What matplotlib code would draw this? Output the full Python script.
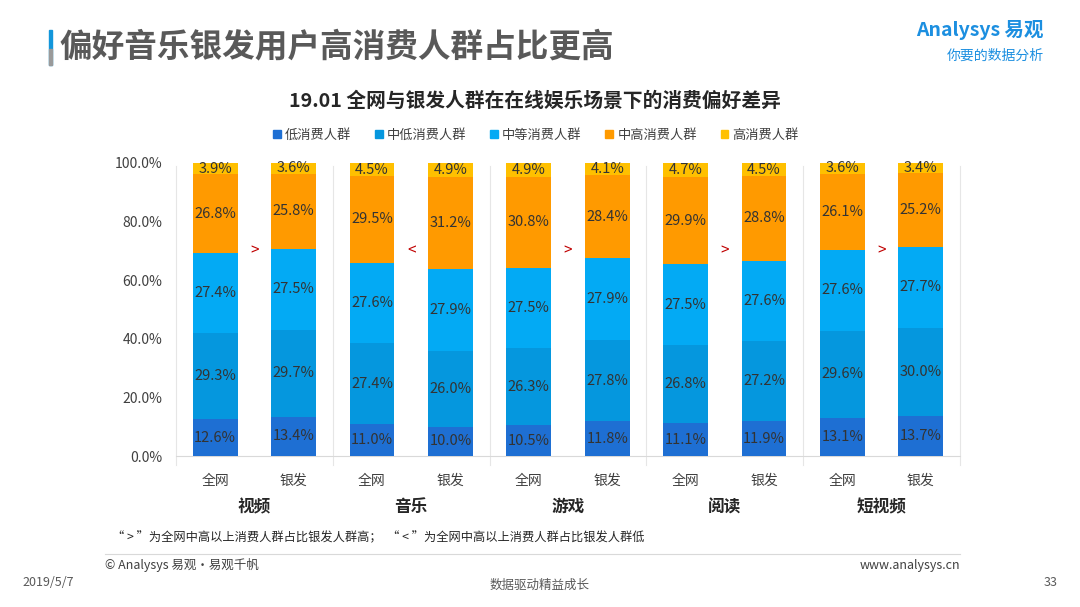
import matplotlib
matplotlib.use('Agg')
import matplotlib.pyplot as plt
from matplotlib.patches import Patch
import numpy as np

plt.rcParams['font.family'] = ['Noto Sans CJK SC', 'DejaVu Sans']

series = ['低消费人群', '中低消费人群', '中等消费人群', '中高消费人群', '高消费人群']
colors = ['#1E6FD3', '#0597DE', '#03AAF4', '#FF9A00', '#FFC000']
bar_labels = ['全网', '银发'] * 5
groups = ['视频', '音乐', '游戏', '阅读', '短视频']
signs = ['>', '<', '>', '>', '>']

low = [12.6, 13.4, 11.0, 10.0, 10.5, 11.8, 11.1, 11.9, 13.1, 13.7]
mid_low = [29.3, 29.7, 27.4, 26.0, 26.3, 27.8, 26.8, 27.2, 29.6, 30.0]
mid = [27.4, 27.5, 27.6, 27.9, 27.5, 27.9, 27.5, 27.6, 27.6, 27.7]
mid_high = [26.8, 25.8, 29.5, 31.2, 30.8, 28.4, 29.9, 28.8, 26.1, 25.2]
high = [3.9, 3.6, 4.5, 4.9, 4.9, 4.1, 4.7, 4.5, 3.6, 3.4]
data = [low, mid_low, mid, mid_high, high]

W, H = 1080, 607
fig = plt.figure(figsize=(W / 100, H / 100), dpi=100)

def fx(px):
    return px / W

def fy(py):
    return 1 - py / H

# page header
fig.patches.append(plt.Rectangle((fx(49), fy(65)), fx(3), 35 / H, transform=fig.transFigure,
                                 color='#1296DB', zorder=5))
fig.patches.append(plt.Rectangle((fx(49), fy(65)), fx(3), 16 / H, transform=fig.transFigure,
                                 color='#9A9A9A', zorder=6))
fig.text(fx(60), fy(47), '偏好音乐银发用户高消费人群占比更高', fontsize=23.5, fontweight='bold',
         color='#595959', va='center', ha='left')
fig.text(fx(1044), fy(30), 'Analysys 易观', fontsize=14, fontweight='bold', color='#1C8FE0',
         va='center', ha='right')
fig.text(fx(1044), fy(56), '你要的数据分析', fontsize=10, color='#1C8FE0', style='italic',
         va='center', ha='right')

# chart title and legend
fig.text(fx(535), fy(101), '19.01 全网与银发人群在在线娱乐场景下的消费偏好差异', fontsize=14.2,
         fontweight='bold', color='#262626', ha='center', va='center')
handles = [Patch(color=c, label=s) for c, s in zip(colors, series)]
fig.legend(handles=handles, loc='center', bbox_to_anchor=(fx(536), fy(135)), ncol=5, frameon=False,
           fontsize=9.5, handlelength=0.6, handleheight=0.6, handletextpad=0.3, columnspacing=1.8,
           labelcolor='#404040')

ax = fig.add_axes([fx(176), fy(456), fx(960) - fx(176), (456 - 163) / H])
x = np.arange(len(bar_labels))
bottom = np.zeros(len(bar_labels))
for vals, c in zip(data, colors):
    vals = np.array(vals)
    ax.bar(x, vals, bottom=bottom, width=0.57, color=c, zorder=3)
    for xi, b, v in zip(x, bottom, vals):
        ax.text(xi, b + v / 2, f'{v:.1f}%', ha='center', va='center', fontsize=10.5, color='#333333', zorder=4)
    bottom += vals

ax.set_xlim(-0.5, len(bar_labels) - 0.5)
ax.set_ylim(0, 100)
ax.set_yticks(np.arange(0, 101, 20))
ax.set_yticklabels([f'{v:.1f}%' for v in np.arange(0, 101, 20)])
ax.set_xticks(x)
ax.set_xticklabels(bar_labels)
ax.tick_params(axis='both', length=0, labelsize=10, labelcolor='#404040')
ax.tick_params(axis='x', pad=13)
ax.tick_params(axis='y', pad=10)
for s in ['top', 'right', 'left']:
    ax.spines[s].set_visible(False)
ax.spines['bottom'].set_color('#D9D9D9')

for k in range(len(groups) + 1):
    ax.axvline(2 * k - 0.5, ymin=-0.03, ymax=0.99, color='#E6E6E6', lw=0.8, clip_on=False, zorder=1)

for k, (g, s) in enumerate(zip(groups, signs)):
    ax.text(2 * k + 0.5, 70, s, ha='center', va='center', fontsize=11, color='#C00000')
    ax.text(2 * k + 0.5, -17.5, g, ha='center', va='center', fontsize=12, fontweight='bold',
            color='#262626', clip_on=False)

# footer
fig.text(fx(112), fy(538), '“ > ”为全网中高以上消费人群占比银发人群高；  “ < ”为全网中高以上消费人群占比银发人群低',
         fontsize=8.8, color='#262626', ha='left', va='center')
fig.add_artist(plt.Line2D([fx(105), fx(960)], [fy(554), fy(554)], color='#D9D9D9', lw=0.8))
fig.text(fx(105), fy(565), '© Analysys 易观·易观千帆', fontsize=9, color='#404040', ha='left', va='center')
fig.text(fx(960), fy(565), 'www.analysys.cn', fontsize=9, color='#404040', ha='right', va='center')
fig.text(fx(22), fy(583), '2019/5/7', fontsize=9, color='#595959', ha='left', va='center')
fig.text(fx(540), fy(585), '数据驱动精益成长', fontsize=9, color='#595959', ha='center', va='center')
fig.text(fx(1058), fy(583), '33', fontsize=9, color='#595959', ha='right', va='center')

fig.savefig('out.png', dpi=100)
